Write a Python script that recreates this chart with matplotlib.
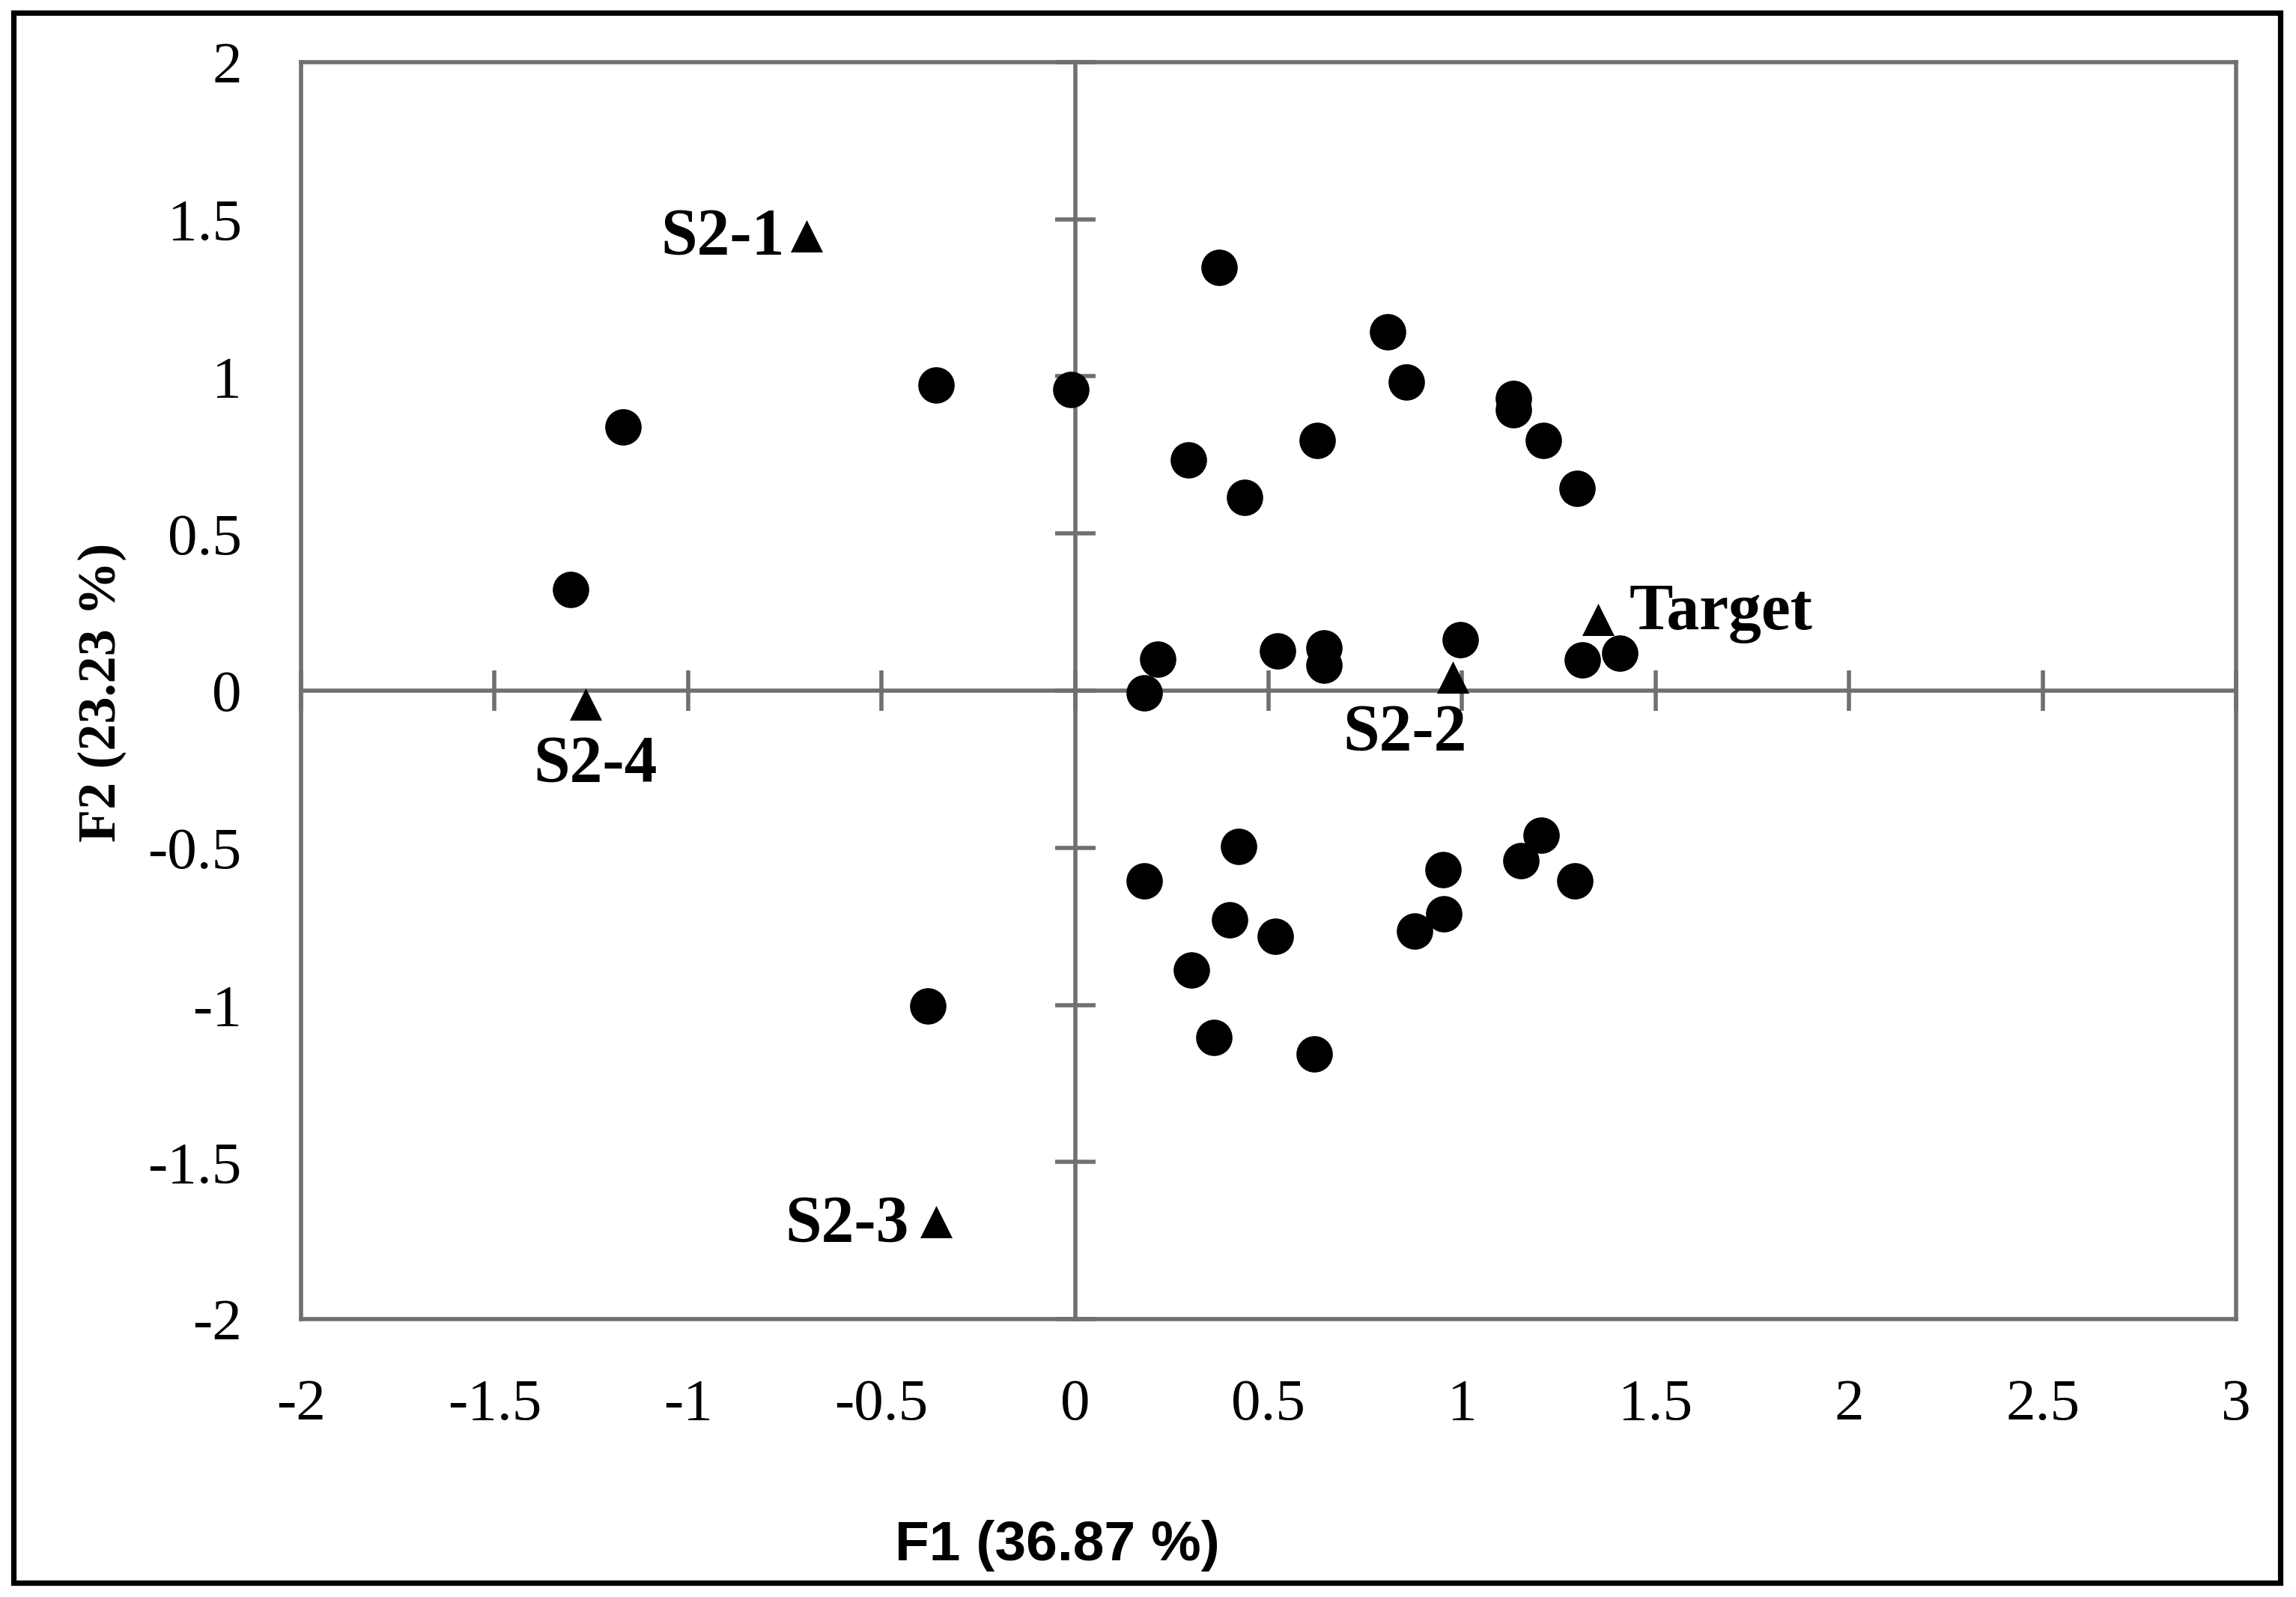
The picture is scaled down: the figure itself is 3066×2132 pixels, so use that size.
import matplotlib
matplotlib.use("Agg")
import matplotlib.pyplot as plt
from matplotlib.patches import Rectangle

# sample scores on the first two factors (filled circles)
f1_samples = [0.372, 0.807, 0.857, 1.132, 1.132, 1.211, 1.298, 0.625, 0.293, 0.438,
              -0.359, -0.010, -1.168, -1.304,
              0.213, 0.178, 0.524, 0.643, 0.643, 0.995, 1.310, 1.407,
              0.423, 0.178, 0.400, 0.518, 0.300, 0.358, 0.619, 0.951, 1.204,
              1.153, 1.291, 0.952, 0.878, -0.381]
f2_samples = [1.347, 1.142, 0.982, 0.930, 0.893, 0.795, 0.644, 0.795, 0.733, 0.616,
              0.973, 0.959, 0.838, 0.321,
              0.100, -0.008, 0.127, 0.135, 0.081, 0.163, 0.097, 0.119,
              -0.497, -0.605, -0.729, -0.783, -0.890, -1.103, -1.157, -0.569, -0.461,
              -0.542, -0.605, -0.711, -0.765, -1.003]

# reference products (triangles)
ref_names = ["S2-1", "S2-2", "S2-3", "S2-4", "Target"]
ref_f1 = [-0.694, 0.976, -0.360, -1.265, 1.352]
ref_f2 = [1.447, 0.042, -1.691, -0.042, 0.227]

x_ticks = [-2, -1.5, -1, -0.5, 0, 0.5, 1, 1.5, 2, 2.5, 3]
y_ticks = [-2, -1.5, -1, -0.5, 0, 0.5, 1, 1.5, 2]

x_title = "F1 (36.87 %)"
y_title = "F2 (23.23 %)"

# label placement (offset in points, horizontal alignment)
label_place = {
    "S2-1": ((-10.4, -8.5), "right"),
    "S2-2": ((6.9, -34.8), "right"),
    "S2-3": ((-13.0, -9.0), "right"),
    "S2-4": ((4.6, -37.0), "center"),
    "Target": ((15.0, -4.6), "left"),
}

plt.rcParams["axes.unicode_minus"] = False
SERIF = ["Liberation Serif", "DejaVu Serif"]
GRAY = "#707070"

fig = plt.figure(figsize=(15.33, 10.66), dpi=200)
fig.patch.set_facecolor("white")
rect = [0.1311, 0.1740, 0.8428, 0.7871]

# zero axes with crossing ticks (drawn underneath)
ax0 = fig.add_axes(rect)
ax0.set_xlim(-2, 3)
ax0.set_ylim(-2, 2)
ax0.set_xticks(x_ticks)
ax0.set_yticks(y_ticks)
ax0.spines["top"].set_visible(False)
ax0.spines["right"].set_visible(False)
ax0.spines["left"].set_position(("data", 0))
ax0.spines["bottom"].set_position(("data", 0))
for s in ("left", "bottom"):
    ax0.spines[s].set_color(GRAY)
    ax0.spines[s].set_linewidth(2.0)
ax0.tick_params(direction="inout", length=19.5, width=2.0, color=GRAY,
                labelleft=False, labelbottom=False)
ax0.patch.set_visible(False)
ax0.set_zorder(0)

# main axes: frame, tick labels, points
ax = fig.add_axes(rect)
ax.set_zorder(1)
ax.patch.set_visible(False)
ax.set_xlim(-2, 3)
ax.set_ylim(-2, 2)
ax.set_xticks(x_ticks)
ax.set_yticks(y_ticks)
ax.set_xticklabels([f"{v:g}" for v in x_ticks], family=SERIF, fontsize=28.5)
ax.set_yticklabels([f"{v:g}" for v in y_ticks], family=SERIF, fontsize=28.5)
ax.tick_params(length=0, pad=28.5)
for s in ax.spines.values():
    s.set_color(GRAY)
    s.set_linewidth(2.0)

ax.scatter(f1_samples, f2_samples, s=17.5 ** 2, c="black", marker="o",
           linewidths=0, zorder=3, clip_on=False)
ax.scatter(ref_f1, ref_f2, s=15.5 ** 2, c="black", marker="^",
           linewidths=0, zorder=3, clip_on=False)

for name, xv, yv in zip(ref_names, ref_f1, ref_f2):
    off, ha = label_place[name]
    ax.annotate(name, (xv, yv), xytext=off, textcoords="offset points",
                ha=ha, va="baseline", family=SERIF, fontweight="bold",
                fontsize=31.5, color="black")

fig.text(0.4605, 0.0230, x_title, ha="center", va="baseline",
         family=["Liberation Sans", "DejaVu Sans"], fontweight="bold", fontsize=27)
fig.text(0.0500, 0.5666, y_title, ha="center", va="baseline", rotation=90,
         rotation_mode="anchor", family=SERIF, fontweight="bold", fontsize=26)

# outer black frame
fig.add_artist(Rectangle((0.0059, 0.0087), 0.9873, 0.9835, transform=fig.transFigure,
                         fill=False, edgecolor="black", linewidth=2.6))

fig.savefig("out.png", dpi=200, facecolor="white")
